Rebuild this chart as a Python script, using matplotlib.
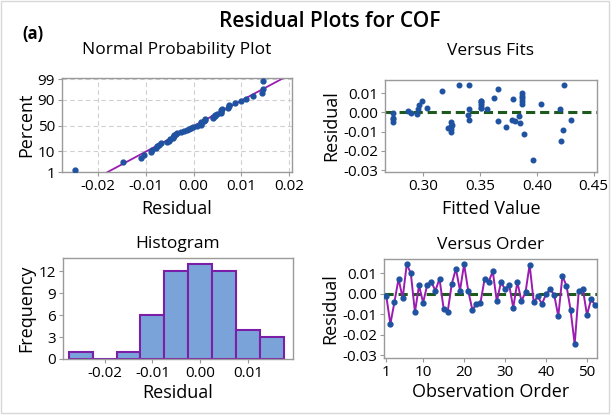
import numpy as np
import matplotlib
matplotlib.use("Agg")
import matplotlib.pyplot as plt
from matplotlib.patches import Rectangle
from statistics import NormalDist

plt.rcParams['font.family'] = ['Open Sans', 'DejaVu Sans']

# residuals in observation order
residuals = [-0.0010, -0.0148, -0.0040, 0.0074, -0.0021, 0.0145, 0.0100, -0.0090,
             0.0041, -0.0043, 0.0044, 0.0057, 0.0016, 0.0074, -0.0072, -0.0087,
             0.0049, 0.0123, 0.0016, 0.0145, 0.0016, -0.0077, -0.0052, -0.0043,
             0.0072, 0.0060, 0.0110, -0.0037, 0.0057, 0.0022, 0.0044, -0.0068,
             0.0058, -0.0035, 0.0008, 0.0143, -0.0040, -0.0013, -0.0050, -0.0002,
             0.0023, -0.0005, -0.0110, 0.0087, 0.0040, -0.0079, -0.0247, 0.0016,
             0.0023, -0.0103, -0.0027, -0.0055]
# fitted values, same order
fitted = [0.294, 0.421, 0.340, 0.362, 0.384, 0.340, 0.387, 0.423,
          0.296, 0.381, 0.404, 0.387, 0.420, 0.387, 0.324, 0.324,
          0.351, 0.366, 0.295, 0.331, 0.356, 0.373, 0.324, 0.366,
          0.379, 0.299, 0.316, 0.378, 0.351, 0.351, 0.387, 0.325,
          0.351, 0.2735, 0.286, 0.424, 0.430, 0.339, 0.2735, 0.289,
          0.303, 0.2735, 0.389, 0.387, 0.351, 0.322, 0.397, 0.340,
          0.351, 0.324, 0.2735, 0.385]
hist_edges = [-0.0275, -0.0225, -0.0175, -0.0125, -0.0075, -0.0025, 0.0025, 0.0075, 0.0125, 0.0175]
pct_ticks = [1, 10, 50, 90, 99]

blue = '#1f52a0'
purple = '#9a1cb0'
green = '#1e5a1e'
spine = '#9a9a9a'

res = np.array(residuals)
fit = np.array(fitted)
n = len(res)
obs = np.arange(1, n + 1)
nd = NormalDist()

fig = plt.figure(figsize=(6.11, 4.15), dpi=100)
fig.patches.append(Rectangle((0.002, 0.004), 0.994, 0.994, transform=fig.transFigure,
                             fill=False, edgecolor='#d8d8d8', lw=1))
fig.text(0.54, 0.948, 'Residual Plots for COF', ha='center', va='center',
         fontsize=15, fontweight='semibold')
fig.text(0.036, 0.918, '(a)', ha='left', va='center', fontsize=12, fontweight='bold')

TICK = 11
LAB = 13
TIT = 12.5


def style(ax):
    for s in ax.spines.values():
        s.set_color(spine)
        s.set_linewidth(1)
    ax.tick_params(labelsize=TICK, color=spine, length=3, pad=2)


# Normal probability plot
ax1 = fig.add_axes([0.1015, 0.5855, 0.376, 0.2265])
srt = np.sort(res)
z = np.array([nd.inv_cdf((i - 0.3) / (n + 0.4)) for i in range(1, n + 1)])
ax1.plot(srt, z, 'o', color=blue, ms=3.5, zorder=3)
mu, sd = res.mean(), res.std(ddof=1)
zz = np.linspace(-3, 3, 10)
ax1.plot(mu + sd * zz, zz, color=purple, lw=1.3, zorder=2)
zt = [nd.inv_cdf(p / 100) for p in pct_ticks]
ax1.set_yticks(zt)
ax1.set_yticklabels([str(p) for p in pct_ticks])
ax1.set_ylim(zt[0], zt[-1] + 0.05)
ax1.set_xlim(-0.0275, 0.0205)
ax1.set_xticks([-0.02, -0.01, 0.0, 0.01, 0.02])
ax1.set_xticklabels(['-0.02', '-0.01', '0.00', '0.01', '0.02'])
ax1.grid(True, ls=(0, (4, 3)), color='#cfcfcf', lw=0.8)
ax1.set_axisbelow(True)
ax1.set_title('Normal Probability Plot', fontsize=TIT, pad=17)
ax1.set_xlabel('Residual', fontsize=LAB, labelpad=4)
ax1.set_ylabel('Percent', fontsize=LAB, labelpad=2)
style(ax1)

# Versus fits
ax2 = fig.add_axes([0.630, 0.5855, 0.347, 0.222])
ax2.plot(fit, res, 'o', color=blue, ms=3.3, zorder=3)
ax2.axhline(0, color=green, lw=2.2, ls=(0, (3, 1.6)), zorder=2)
ax2.set_xlim(0.266, 0.453)
ax2.set_ylim(-0.031, 0.0169)
ax2.set_xticks([0.30, 0.35, 0.40, 0.45])
ax2.set_xticklabels(['0.30', '0.35', '0.40', '0.45'])
ax2.set_yticks([0.01, 0.0, -0.01, -0.02, -0.03])
ax2.set_yticklabels(['0.01', '0.00', '-0.01', '-0.02', '-0.03'])
ax2.set_title('Versus Fits', fontsize=TIT, pad=18)
ax2.set_xlabel('Fitted Value', fontsize=LAB, labelpad=4)
ax2.set_ylabel('Residual', fontsize=LAB, labelpad=2)
style(ax2)

# Histogram
ax3 = fig.add_axes([0.103, 0.135, 0.376, 0.243])
ax3.hist(res, bins=hist_edges, color='#7aa4d9', edgecolor='#7b1fa8', lw=1.5)
ax3.set_xlim(-0.0287, 0.0193)
ax3.set_ylim(0, 13.8)
ax3.set_yticks([0, 3, 6, 9, 12])
ax3.set_xticks([-0.02, -0.01, 0.0, 0.01])
ax3.set_xticklabels(['-0.02', '-0.01', '0.00', '0.01'])
ax3.set_title('Histogram', fontsize=TIT, pad=7)
ax3.set_xlabel('Residual', fontsize=LAB, labelpad=2)
ax3.set_ylabel('Frequency', fontsize=LAB, labelpad=2)
style(ax3)

# Versus order
ax4 = fig.add_axes([0.6285, 0.137, 0.3486, 0.2386])
ax4.axhline(0, color=green, lw=2.2, ls=(0, (3, 1.6)), zorder=1)
ax4.plot(obs, res, '-', color=purple, lw=1.4, zorder=2)
ax4.plot(obs, res, 'o', color=blue, ms=3.5, zorder=3)
ax4.set_xlim(0.45, 52.45)
ax4.set_ylim(-0.0315, 0.017)
ax4.set_xticks([1, 10, 20, 30, 40, 50])
ax4.set_yticks([0.01, 0.0, -0.01, -0.02, -0.03])
ax4.set_yticklabels(['0.01', '0.00', '-0.01', '-0.02', '-0.03'])
ax4.set_title('Versus Order', fontsize=TIT, pad=7)
ax4.set_xlabel('Observation Order', fontsize=LAB, labelpad=2)
ax4.set_ylabel('Residual', fontsize=LAB, labelpad=2)
style(ax4)

fig.savefig('out.png', dpi=100)
